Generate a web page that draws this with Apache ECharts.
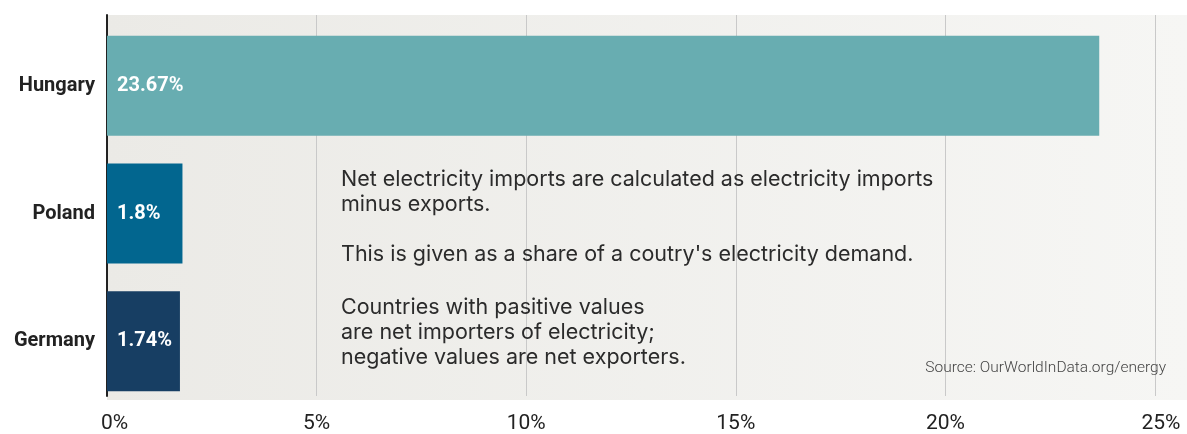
<!DOCTYPE html>
<html>
<head>
<meta charset="utf-8">
<script src="https://cdn.jsdelivr.net/npm/echarts@6/dist/echarts.min.js"></script>
<style>
  html, body { margin: 0; padding: 0; background: #ffffff; }
  #chart { width: 1187px; height: 434px; }
</style>
</head>
<body>
<div id="chart"></div>
<script>
// Net electricity imports as a share of demand
const countries = ['Hungary', 'Poland', 'Germany'];
const shares = [23.67, 1.8, 1.74];
const barColors = ['#68adb1', '#02668f', '#173e63'];
const tickValues = [0, 5, 10, 15, 20, 25];

const noteTop = ['Net electricity imports are calculated as electricity imports', 'minus exports.'];
const noteMid = ["This is given as a share of a coutry's electricity demand."];
const noteBottom = ['Countries with pasitive values', 'are net importers of electricity;', 'negative values are net exporters.'];
const sourceText = 'Source: OurWorldInData.org/energy';

const chart = echarts.init(document.getElementById('chart'), null, { renderer: 'canvas' });

const FONT = 'Roboto, "Noto Sans", sans-serif';
const NOTE_FONT = 'Inter, Roboto, sans-serif';
const noteStyle = { fill: '#2b2b2b', font: '21.5px ' + NOTE_FONT, lineHeight: 25, verticalAlign: 'top' };

chart.setOption({
  animation: false,
  grid: [
    { left: 107, right: 32, top: 15, bottom: 34 },
    { left: 107, right: 32, top: 22, bottom: 29 }
  ],
  graphic: [
    {
      type: 'rect', z: -10, silent: true,
      shape: { x: 107, y: 15, width: 1080, height: 385 },
      style: {
        fill: new echarts.graphic.LinearGradient(0, 0, 1, 0, [
          { offset: 0, color: '#ebeae6' },
          { offset: 1, color: '#f6f6f4' }
        ])
      }
    },
    { type: 'text', z: 20, left: 341, top: 167, style: Object.assign({ text: noteTop.join('\n') }, noteStyle) },
    { type: 'text', z: 20, left: 341, top: 242, style: Object.assign({ text: noteMid.join('\n') }, noteStyle) },
    { type: 'text', z: 20, left: 341, top: 295, style: Object.assign({ text: noteBottom.join('\n') }, noteStyle) },
    {
      type: 'text', z: 20, right: 21, top: 360,
      style: { text: sourceText, fill: '#444444', font: '300 15.5px ' + FONT }
    }
  ],
  xAxis: [
    {
      gridIndex: 0, type: 'value', min: 0, max: 25, interval: 5,
      axisLine: { show: false }, axisTick: { show: false },
      splitLine: { show: true, lineStyle: { color: '#c9c9c9', width: 1 } },
      axisLabel: {
        margin: 17, color: '#222222', fontSize: 21, fontFamily: FONT,
        formatter: v => {
          if (!tickValues.includes(v)) return '';
          if (v === 0) return '{first|' + v + '%}';
          if (v === 25) return '{last|' + v + '%}';
          return v + '%';
        },
        rich: {
          first: { fontSize: 21, fontFamily: FONT, color: '#222222', padding: [0, 0, 0, 15] },
          last: { fontSize: 21, fontFamily: FONT, color: '#222222', padding: [0, 0, 0, 12] }
        }
      }
    },
    {
      gridIndex: 1, type: 'value', min: 0, max: 25, interval: 5, show: false
    }
  ],
  yAxis: [
    {
      gridIndex: 0, type: 'category', data: countries, inverse: true,
      axisLine: { show: true, lineStyle: { color: '#222222', width: 2 } },
      axisTick: { show: false }, axisLabel: { show: false }
    },
    {
      gridIndex: 1, type: 'category', data: countries, inverse: true,
      axisLine: { show: false }, axisTick: { show: false },
      axisLabel: { margin: 12, color: '#222222', fontSize: 20, fontWeight: 'bold', fontFamily: FONT }
    }
  ],
  series: [
    {
      type: 'bar', xAxisIndex: 1, yAxisIndex: 1, barWidth: 100,
      data: shares.map((v, i) => ({ value: v, itemStyle: { color: barColors[i] } })),
      label: {
        show: true, position: 'insideLeft', distance: 10,
        color: '#ffffff', fontSize: 20, fontWeight: 'bold', fontFamily: FONT,
        formatter: p => p.value + '%'
      }
    }
  ]
});
</script>
</body>
</html>
